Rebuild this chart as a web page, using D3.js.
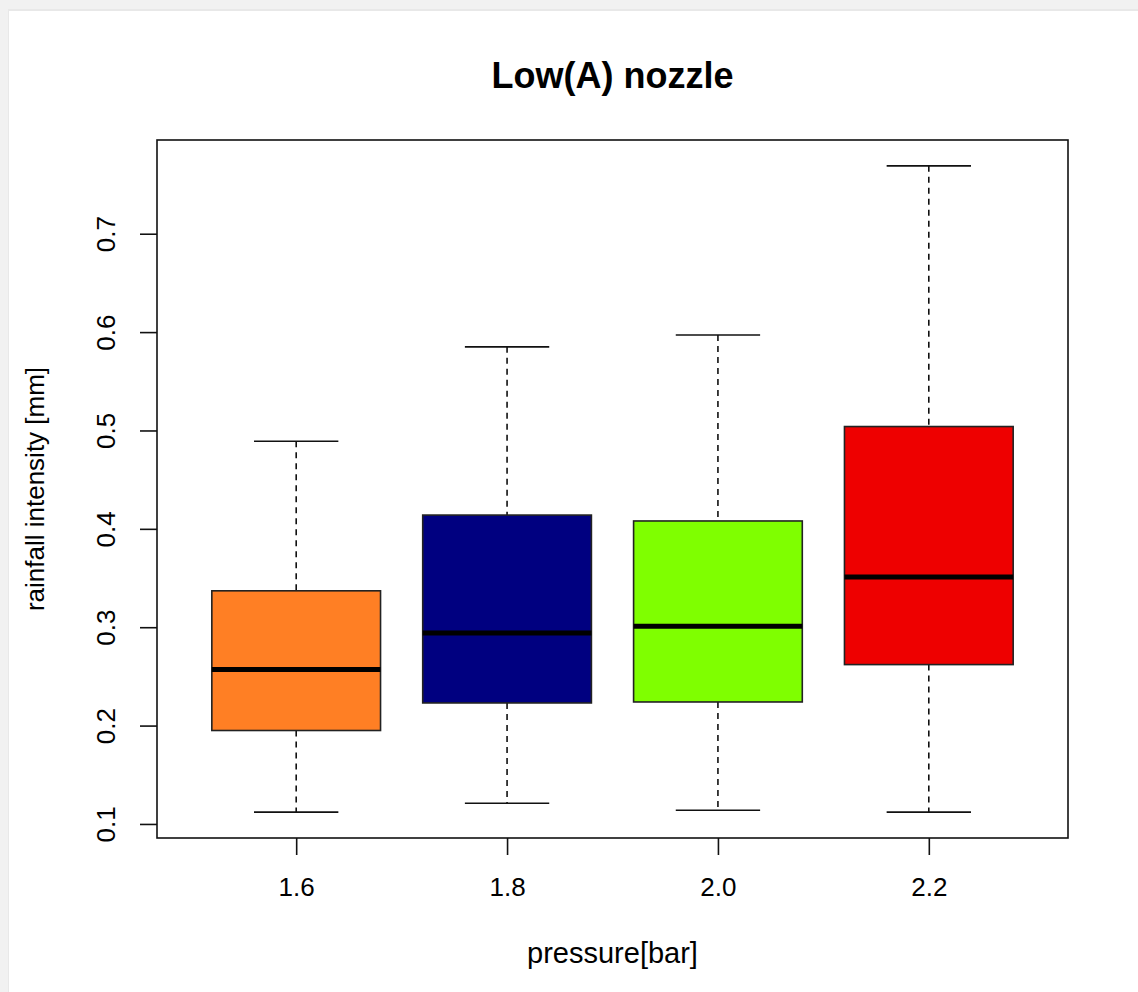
<!DOCTYPE html>
<html>
<head>
<meta charset="utf-8">
<script src="https://cdn.jsdelivr.net/npm/d3@7"></script>
<style>
  body { margin: 0; background: #f1f1f1; }
  text { font-family: "Liberation Sans", Arial, sans-serif; fill: #000; }
</style>
</head>
<body>
<svg id="chart" width="1138" height="992"></svg>
<script>
var categories = ["1.6", "1.8", "2.0", "2.2"];
var lowerWhisker = [0.112, 0.121, 0.114, 0.112];
var q1 = [0.195, 0.223, 0.224, 0.262];
var median = [0.257, 0.294, 0.301, 0.351];
var q3 = [0.337, 0.414, 0.408, 0.504];
var upperWhisker = [0.489, 0.585, 0.597, 0.769];
var boxColors = ["#FF7F24", "#000080", "#7FFF00", "#EE0000"];
var yTicks = [0.1, 0.2, 0.3, 0.4, 0.5, 0.6, 0.7];

var svg = d3.select("#chart");

// screenshot frame
svg.append("rect")
    .attr("x", 0).attr("y", 0)
    .attr("width", 1138).attr("height", 992)
    .attr("fill", "#f1f1f1");
svg.append("rect")
    .attr("x", 8).attr("y", 9)
    .attr("width", 1130).attr("height", 983)
    .attr("fill", "#e8e8e8");
svg.append("rect")
    .attr("x", 9).attr("y", 11)
    .attr("width", 1129).attr("height", 981)
    .attr("fill", "#ffffff");

var plotLeft = 157, plotRight = 1068, plotTop = 140, plotBottom = 838;

var x = d3.scaleLinear().domain([0.34, 4.66]).range([plotLeft, plotRight]);
var yMin = d3.min(lowerWhisker), yMax = d3.max(upperWhisker);
var pad = (yMax - yMin) * 0.04;
var y = d3.scaleLinear().domain([yMin - pad, yMax + pad]).range([plotBottom, plotTop]);

var data = categories.map(function(c, i) {
    return { cat: c, pos: i + 1, lo: lowerWhisker[i], q1: q1[i], med: median[i],
             q3: q3[i], hi: upperWhisker[i], color: boxColors[i] };
});

var boxW = x(1.4) - x(0.6);
var capW = boxW / 2;

var g = svg.append("g");

var boxes = g.selectAll(".box")
    .data(data)
    .enter().append("g")
    .attr("class", "box");

// whiskers
boxes.append("line")
    .attr("x1", function(d) { return x(d.pos); })
    .attr("x2", function(d) { return x(d.pos); })
    .attr("y1", function(d) { return y(d.hi); })
    .attr("y2", function(d) { return y(d.q3); })
    .attr("stroke", "#000").attr("stroke-width", 1.5)
    .attr("stroke-dasharray", "6,5");
boxes.append("line")
    .attr("x1", function(d) { return x(d.pos); })
    .attr("x2", function(d) { return x(d.pos); })
    .attr("y1", function(d) { return y(d.q1); })
    .attr("y2", function(d) { return y(d.lo); })
    .attr("stroke", "#000").attr("stroke-width", 1.5)
    .attr("stroke-dasharray", "6,5");

// caps
boxes.append("line")
    .attr("x1", function(d) { return x(d.pos) - capW / 2; })
    .attr("x2", function(d) { return x(d.pos) + capW / 2; })
    .attr("y1", function(d) { return y(d.hi); })
    .attr("y2", function(d) { return y(d.hi); })
    .attr("stroke", "#111").attr("stroke-width", 1.6);
boxes.append("line")
    .attr("x1", function(d) { return x(d.pos) - capW / 2; })
    .attr("x2", function(d) { return x(d.pos) + capW / 2; })
    .attr("y1", function(d) { return y(d.lo); })
    .attr("y2", function(d) { return y(d.lo); })
    .attr("stroke", "#111").attr("stroke-width", 1.6);

// boxes
boxes.append("rect")
    .attr("x", function(d) { return x(d.pos) - boxW / 2; })
    .attr("y", function(d) { return y(d.q3); })
    .attr("width", boxW)
    .attr("height", function(d) { return y(d.q1) - y(d.q3); })
    .attr("fill", function(d) { return d.color; })
    .attr("stroke", "#222").attr("stroke-width", 1.6);

// medians
boxes.append("line")
    .attr("x1", function(d) { return x(d.pos) - boxW / 2; })
    .attr("x2", function(d) { return x(d.pos) + boxW / 2; })
    .attr("y1", function(d) { return y(d.med); })
    .attr("y2", function(d) { return y(d.med); })
    .attr("stroke", "#000").attr("stroke-width", 5);

// frame
svg.append("rect")
    .attr("x", plotLeft).attr("y", plotTop)
    .attr("width", plotRight - plotLeft).attr("height", plotBottom - plotTop)
    .attr("fill", "none").attr("stroke", "#111").attr("stroke-width", 1.6);

// x axis
var xAxis = d3.axisBottom(x)
    .tickValues([1, 2, 3, 4])
    .tickFormat(function(d) { return categories[d - 1]; })
    .tickSize(17)
    .tickPadding(0);
var xg = svg.append("g")
    .attr("transform", "translate(0," + plotBottom + ")")
    .call(xAxis);
xg.select(".domain").remove();
xg.selectAll("line").attr("stroke", "#111").attr("stroke-width", 1.6);
xg.selectAll("text")
    .attr("font-family", "Liberation Sans, Arial, sans-serif")
    .attr("font-size", 26).attr("fill", "#000")
    .attr("y", 58).attr("dy", null);

// y axis
var yAxis = d3.axisLeft(y)
    .tickValues(yTicks)
    .tickFormat(d3.format(".1f"))
    .tickSize(17)
    .tickPadding(0);
var yg = svg.append("g")
    .attr("transform", "translate(" + plotLeft + ",0)")
    .call(yAxis);
yg.select(".domain").remove();
yg.selectAll("line").attr("stroke", "#111").attr("stroke-width", 1.6);
yg.selectAll("text")
    .attr("font-family", "Liberation Sans, Arial, sans-serif")
    .attr("font-size", 26).attr("fill", "#000")
    .attr("x", 0).attr("y", 0).attr("dy", null)
    .attr("text-anchor", "middle")
    .attr("transform", "translate(-42,0) rotate(-90)");

// titles
svg.append("text")
    .attr("x", (plotLeft + plotRight) / 2)
    .attr("y", 88)
    .attr("text-anchor", "middle")
    .attr("font-size", 36).attr("font-weight", "bold")
    .text("Low(A) nozzle");

svg.append("text")
    .attr("x", (plotLeft + plotRight) / 2)
    .attr("y", 963)
    .attr("text-anchor", "middle")
    .attr("font-size", 29)
    .text("pressure[bar]");

svg.append("text")
    .attr("transform", "translate(44," + ((plotTop + plotBottom) / 2) + ") rotate(-90)")
    .attr("text-anchor", "middle")
    .attr("font-size", 26)
    .text("rainfall intensity [mm]");
</script>
</body>
</html>
